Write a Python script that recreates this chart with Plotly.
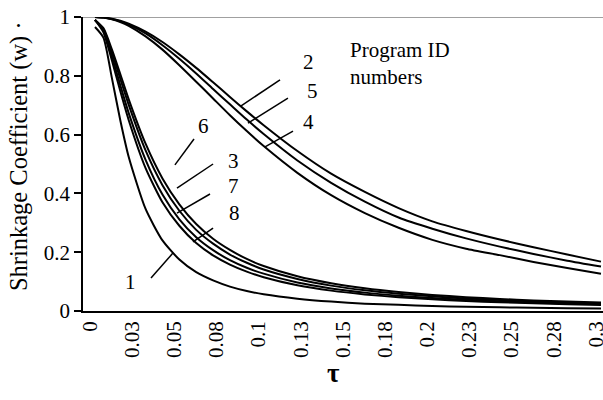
import plotly.graph_objects as go

# Dimensionless time
tau = [0, 0.005, 0.01, 0.015, 0.02, 0.03, 0.04, 0.05, 0.06, 0.07, 0.08, 0.09, 0.1,
       0.12, 0.14, 0.16, 0.18, 0.2, 0.22, 0.24, 0.26, 0.28, 0.3]

# Shrinkage coefficient w for each program ID
w1 = [0.966, 0.930, 0.793, 0.649, 0.524, 0.347, 0.240, 0.175, 0.132, 0.104, 0.083, 0.068, 0.057,
      0.042, 0.032, 0.025, 0.021, 0.017, 0.0145, 0.0124, 0.0108, 0.0094, 0.0083]
w2 = [1.0, 0.998, 0.994, 0.987, 0.977, 0.950, 0.915, 0.873, 0.827, 0.778, 0.728, 0.679, 0.632,
      0.544, 0.467, 0.405, 0.350, 0.305, 0.272, 0.243, 0.217, 0.192, 0.168]
w3 = [0.99, 0.958, 0.880, 0.790, 0.701, 0.546, 0.428, 0.341, 0.276, 0.229, 0.192, 0.164, 0.141,
      0.109, 0.0863, 0.0705, 0.0588, 0.0498, 0.0429, 0.0374, 0.0329, 0.0292, 0.0262]
w4 = [1.0, 0.998, 0.992, 0.983, 0.970, 0.934, 0.889, 0.836, 0.780, 0.723, 0.666, 0.612, 0.561,
      0.470, 0.394, 0.333, 0.283, 0.242, 0.212, 0.190, 0.167, 0.146, 0.127]
w5 = [1.0, 0.998, 0.993, 0.985, 0.974, 0.944, 0.904, 0.858, 0.808, 0.755, 0.703, 0.651, 0.602,
      0.512, 0.436, 0.372, 0.318, 0.280, 0.247, 0.219, 0.194, 0.171, 0.151]
w6 = [0.99, 0.962, 0.890, 0.806, 0.720, 0.569, 0.451, 0.363, 0.296, 0.246, 0.208, 0.177, 0.153,
      0.118, 0.0942, 0.0770, 0.0643, 0.0545, 0.0470, 0.0410, 0.0361, 0.0321, 0.0287]
w7 = [0.99, 0.953, 0.866, 0.768, 0.673, 0.514, 0.396, 0.312, 0.251, 0.207, 0.173, 0.147, 0.127,
      0.0967, 0.0767, 0.0625, 0.0521, 0.0441, 0.0379, 0.0330, 0.0291, 0.0258, 0.0231]
w8 = [0.99, 0.948, 0.853, 0.748, 0.649, 0.486, 0.370, 0.290, 0.231, 0.189, 0.158, 0.134, 0.115,
      0.0876, 0.0693, 0.0564, 0.0469, 0.0397, 0.0341, 0.0297, 0.0261, 0.0232, 0.0207]

series = [w1, w2, w3, w4, w5, w6, w7, w8]

x_tickvals = [0, 0.025, 0.05, 0.075, 0.1, 0.125, 0.15, 0.175, 0.2, 0.225, 0.25, 0.275, 0.3]
x_ticktext = ["0", "0.03", "0.05", "0.08", "0.1", "0.13", "0.15", "0.18", "0.2", "0.23", "0.25", "0.28", "0.3"]
y_tickvals = [0, 0.2, 0.4, 0.6, 0.8, 1]
y_ticktext = ["0", "0.2", "0.4", "0.6", "0.8", "1"]

# Program-ID labels: (text, label x, label y, leader start x, y, leader end x, y)
id_labels = [
    ("2", 0.1263, 0.847, 0.1097, 0.786, 0.0864, 0.697),
    ("5", 0.1287, 0.748, 0.1144, 0.724, 0.0907, 0.639),
    ("4", 0.1263, 0.643, 0.1174, 0.612, 0.1008, 0.558),
    ("6", 0.0646, 0.629, 0.0587, 0.585, 0.0474, 0.497),
    ("3", 0.0824, 0.510, 0.0700, 0.500, 0.0486, 0.418),
    ("7", 0.0824, 0.425, 0.0682, 0.398, 0.0486, 0.333),
    ("8", 0.0830, 0.333, 0.0700, 0.282, 0.0581, 0.235),
    ("1", 0.0208, 0.099, 0.0462, 0.197, 0.0332, 0.112),
]

FONT = "Liberation Serif, Times New Roman, serif"

fig = go.Figure()
for s in series:
    fig.add_trace(go.Scatter(x=tau, y=s, mode="lines",
                             line=dict(color="black", width=2, shape="spline", smoothing=0.6),
                             showlegend=False, hoverinfo="skip", cliponaxis=False))

shapes = [dict(type="line", xref="paper", yref="y", x0=0, x1=1, y0=1, y1=1,
               line=dict(color="#808080", width=1.5), layer="below")]
annotations = []
for txt, lx, ly, sx, sy, ex, ey in id_labels:
    shapes.append(dict(type="line", xref="x", yref="y", x0=sx, y0=sy, x1=ex, y1=ey,
                       line=dict(color="black", width=1.5)))
    annotations.append(dict(x=lx, y=ly, xref="x", yref="y", text=txt, showarrow=False,
                            font=dict(family=FONT, size=21, color="black"),
                            xanchor="center", yanchor="middle"))

annotations.append(dict(x=0.150, y=0.842, xref="x", yref="y", text="Program ID<br>numbers", showarrow=False,
                        align="left", xanchor="left", yanchor="middle",
                        font=dict(family=FONT, size=21, color="black")))
# axis titles
annotations.append(dict(x=-0.123, y=0.527, xref="paper", yref="paper", text="Shrinkage Coefficient (w) ·",
                        showarrow=False, textangle=-90, xanchor="center", yanchor="middle",
                        font=dict(family=FONT, size=24.5, color="black")))
annotations.append(dict(x=0.482, y=-0.21, xref="paper", yref="paper", text="<b>τ</b>",
                        showarrow=False, xanchor="center", yanchor="middle",
                        font=dict(family=FONT, size=27, color="black")))

fig.update_layout(
    width=603, height=400,
    margin=dict(l=83, r=0, t=17, b=89, autoexpand=False),
    paper_bgcolor="white", plot_bgcolor="white",
    font=dict(family=FONT, size=21, color="black"),
    shapes=shapes, annotations=annotations,
    showlegend=False,
)
fig.update_xaxes(range=[-0.00711, 0.30119], tickmode="array", tickvals=x_tickvals, ticktext=x_ticktext,
                 tickangle=-90, showgrid=False, zeroline=False, showline=True, linecolor="black", linewidth=1.5,
                 ticks="", tickfont=dict(family=FONT, size=21), automargin=False,
                 ticklabeloverflow="allow", ticklabelshift=-5)
fig.update_yaxes(range=[0, 1], tickmode="array", tickvals=y_tickvals, ticktext=y_ticktext,
                 showgrid=False, zeroline=False, showline=True, linecolor="black", linewidth=1.5,
                 ticks="outside", ticklen=7, tickcolor="black", tickwidth=1.5,
                 tickfont=dict(family=FONT, size=21), automargin=False)

fig.write_html("out.html", config={"displayModeBar": False},
               post_script="document.body.style.margin='0';document.body.style.overflow='hidden';")
